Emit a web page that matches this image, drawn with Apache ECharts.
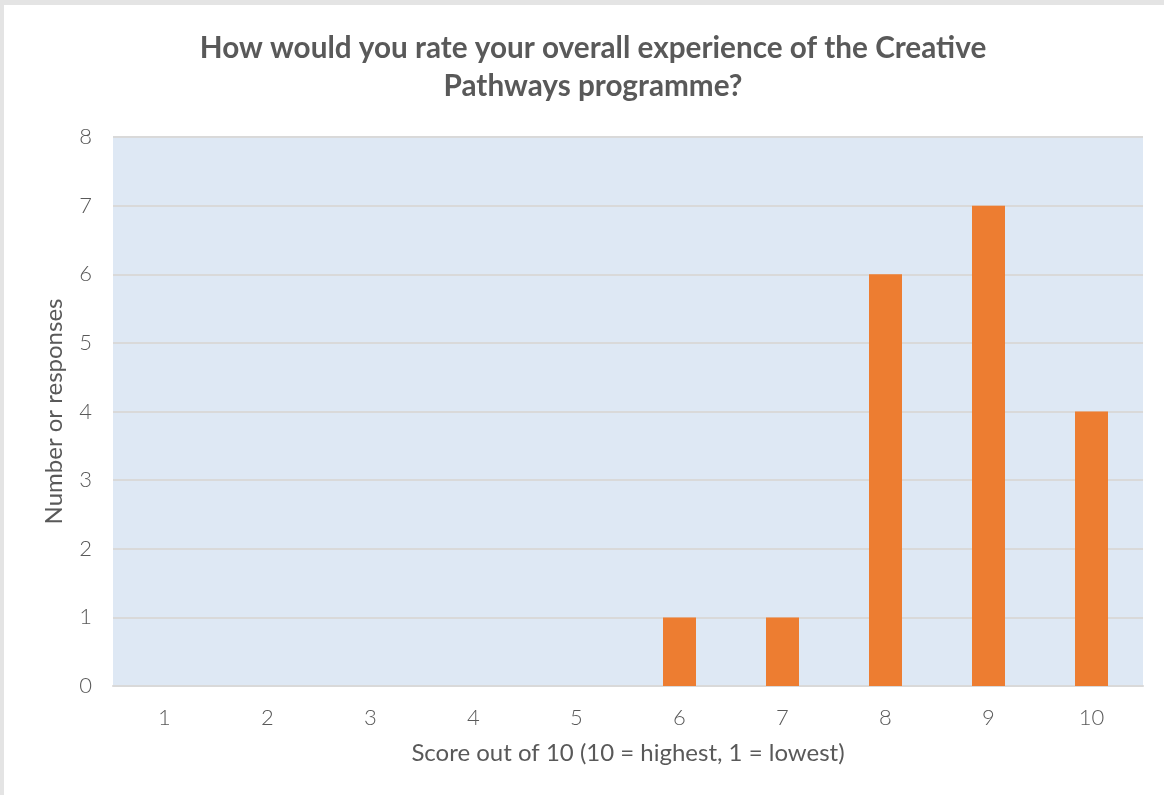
<!DOCTYPE html>
<html><head><meta charset="utf-8">
<script src="https://cdn.jsdelivr.net/npm/echarts@6/dist/echarts.min.js"></script>
<style>
html,body{margin:0;padding:0;background:#e4e4e4;width:1164px;height:795px;overflow:hidden;}
#c{position:absolute;left:4px;top:5px;width:1160px;height:790px;background:#fff;}
</style></head><body>
<div id="c"></div>
<script>
const titleText = "How would you rate your overall experience of the Creative\nPathways programme?";
const categories = ["1","2","3","4","5","6","7","8","9","10"];
const responses = [0,0,0,0,0,1,1,6,7,4];
const yTicks = [0,1,2,3,4,5,6,7,8];
const xTitle = "Score out of 10 (10 = highest, 1 = lowest)";
const yTitle = "Number or responses";

const chart = echarts.init(document.getElementById('c'), null, {renderer:'canvas'});
chart.setOption({
  animation:false,
  title:{
    text:titleText, left:584, textAlign:'center', top:19,
    textStyle:{fontFamily:'Lato', fontWeight:'bold', fontSize:29.7, color:'#595959', lineHeight:38}
  },
  grid:{left:109, right:21, top:132, bottom:109, show:true, backgroundColor:'#dee8f4', borderWidth:0},
  xAxis:{
    type:'category', data:categories,
    axisLine:{show:true, lineStyle:{color:'#d9d9d9', width:2}},
    axisTick:{show:false},
    axisLabel:{fontFamily:'Lato', fontWeight:300, fontSize:22, color:'#595959', margin:21},
    name:xTitle, nameLocation:'middle', nameGap:55,
    nameTextStyle:{fontFamily:'Lato', fontSize:24, color:'#595959'}
  },
  yAxis:{
    type:'value', min:0, max:8, interval:1,
    axisLine:{show:false}, axisTick:{show:false},
    axisLabel:{fontFamily:'Lato', fontWeight:300, fontSize:22, color:'#595959', margin:21,
      formatter:(v)=> yTicks.includes(v) ? String(v) : ''},
    splitLine:{lineStyle:{color:'#d9d9d9', width:2}},
    name:yTitle, nameLocation:'middle', nameGap:47, nameRotate:90,
    nameTextStyle:{fontFamily:'Lato', fontSize:24, color:'#595959'}
  },
  series:[{
    type:'bar', data:responses, barWidth:33,
    itemStyle:{color:'#ed7d31'}
  }]
});
</script>
</body></html>
